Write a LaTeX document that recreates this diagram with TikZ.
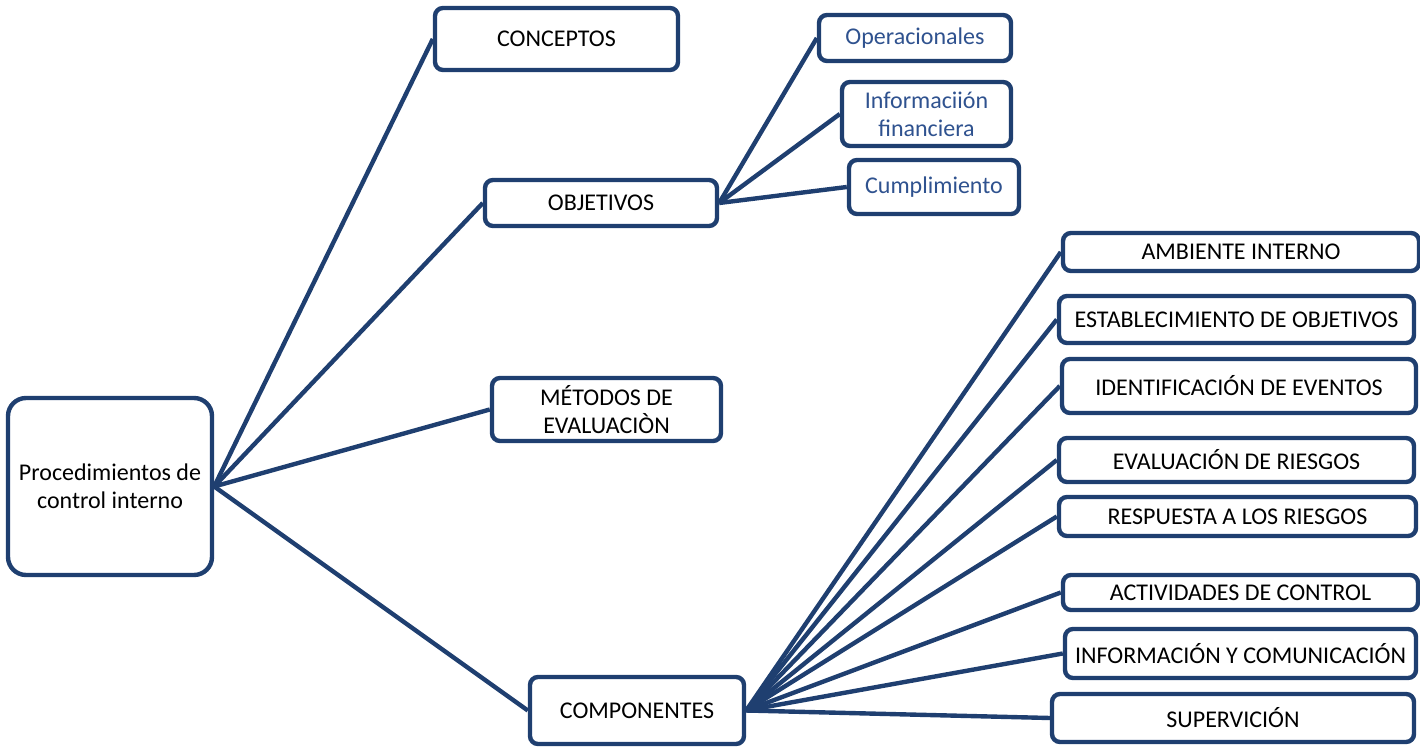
\documentclass[tikz,border=0pt]{standalone}
\usepackage{fontspec}
\setmainfont{Carlito}
\usepackage{xcolor}
\usepackage{tikz}
\usetikzlibrary{positioning}
\definecolor{navy}{RGB}{31,63,112}
\definecolor{subblue}{RGB}{47,82,143}

\begin{document}
\begin{tikzpicture}[x=0.5pt,y=-0.5pt,
    bx/.style={draw=navy,line width=2.2pt,fill=white,rounded corners=4pt,align=center,
      inner sep=0pt,font=\fontsize{12}{14}\selectfont},
    sub/.style={bx,text=subblue},
    link/.style={navy,line width=2.2pt}]
  \useasboundingbox (0,0) rectangle (1420,748);
  % root
  \node[bx,rounded corners=9pt,minimum width=102pt,minimum height=88.5pt] (root) at (110,486.5) {Procedimientos de\\control interno};
  % first level
  \node[bx,minimum width=121.5pt,minimum height=31pt] (conc) at (556.5,39) {CONCEPTOS};
  \node[bx,minimum width=116pt,minimum height=23pt] (obj) at (601,203) {OBJETIVOS};
  \node[bx,minimum width=114.5pt,minimum height=31.5pt] (met) at (606.5,409.5) {MÉTODOS DE\\EVALUACIÒN};
  \node[bx,minimum width=107pt,minimum height=33.5pt] (comp) at (637,710.5) {COMPONENTES};
  % objectives
  \node[sub,minimum width=96pt,minimum height=23pt] (oper) at (915,38) {Operacionales};
  \node[sub,minimum width=84.5pt,minimum height=32pt] (info) at (926.5,114) {Informaciión\\financiera};
  \node[sub,minimum width=85pt,minimum height=27pt] (cump) at (934,187) {Cumplimiento};
  % components
  \node[bx,minimum width=178pt,minimum height=19pt] (amb) at (1241,252) {AMBIENTE INTERNO};
  \node[bx,minimum width=177.5pt,minimum height=23.5pt] (est) at (1236.5,319.5) {ESTABLECIMIENTO DE OBJETIVOS};
  \node[bx,minimum width=177pt,minimum height=27pt] (ident) at (1239,386) {IDENTIFICACIÓN DE EVENTOS};
  \node[bx,minimum width=177.5pt,minimum height=22pt] (eval) at (1236.5,460) {EVALUACIÓN DE RIESGOS};
  \node[bx,minimum width=178.5pt,minimum height=19.5pt] (resp) at (1237.5,516.5) {RESPUESTA A LOS RIESGOS};
  \node[bx,minimum width=177.5pt,minimum height=17.5pt] (act) at (1240.5,592.5) {ACTIVIDADES DE CONTROL};
  \node[bx,minimum width=175.5pt,minimum height=24.5pt] (infc) at (1240.5,653.5) {INFORMACIÓN Y COMUNICACIÓN};
  \node[bx,minimum width=181pt,minimum height=24pt] (sup) at (1233,718) {SUPERVICIÓN};
  % connectors
  \foreach \t in {conc,obj,met,comp}
    \draw[link] (root.east) -- (\t.west);
  \foreach \t in {oper,info,cump}
    \draw[link] (obj.east) -- (\t.west);
  \foreach \t in {amb,est,ident,eval,resp,act,infc,sup}
    \draw[link] (comp.east) -- (\t.west);
\end{tikzpicture}
\end{document}
